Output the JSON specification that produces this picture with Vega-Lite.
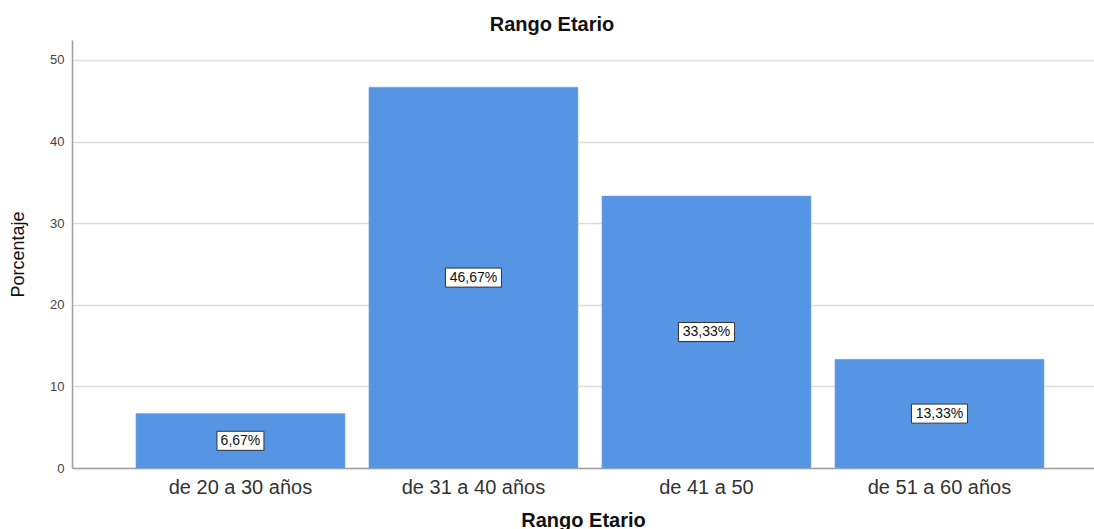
{
  "$schema": "https://vega.github.io/schema/vega-lite/v6.json",
  "width": 1022,
  "height": 428,
  "autosize": "none",
  "padding": {"left": 72, "top": 40, "right": 0, "bottom": 61},
  "background": "white",
  "title": {
    "text": "Rango Etario",
    "anchor": "middle",
    "frame": "group",
    "dx": -31,
    "offset": 5,
    "font": "Liberation Sans",
    "fontSize": 20,
    "fontWeight": "bold",
    "color": "#111111"
  },
  "data": {
    "values": [
      {"rango": "de 20 a 30 años", "pct": 6.67},
      {"rango": "de 31 a 40 años", "pct": 46.67},
      {"rango": "de 41 a 50", "pct": 33.33},
      {"rango": "de 51 a 60 años", "pct": 13.33}
    ]
  },
  "transform": [
    {"calculate": "datum.pct / 2", "as": "mid"},
    {"calculate": "replace(format(datum.pct, '.2f'), '.', ',') + '%'", "as": "etiqueta"}
  ],
  "encoding": {
    "x": {
      "field": "rango",
      "type": "nominal",
      "sort": null,
      "scale": {"paddingInner": 0.103, "paddingOuter": 0.2446, "align": 0.561},
      "axis": {
        "title": "Rango Etario",
        "labelAngle": 0,
        "labelFont": "Liberation Sans",
        "labelFontSize": 20,
        "labelColor": "#333333",
        "labelPadding": 9,
        "ticks": false,
        "domainColor": "#a0a0a0",
        "domainWidth": 1.5,
        "titleFont": "Liberation Sans",
        "titleFontSize": 20,
        "titleFontWeight": "bold",
        "titleColor": "#111111",
        "titlePadding": 13
      }
    }
  },
  "layer": [
    {
      "mark": {"type": "bar", "color": "#5595e4", "stroke": "#6ea4ea", "strokeWidth": 0.5},
      "encoding": {
        "y": {
          "field": "pct",
          "type": "quantitative",
          "scale": {"domain": [0, 52.45], "nice": false},
          "axis": {
            "title": "Porcentaje",
            "values": [0, 10, 20, 30, 40, 50],
            "labelFont": "Liberation Sans",
            "labelFontSize": 13,
            "labelColor": "#444444",
            "labelPadding": 8,
            "ticks": false,
            "domainColor": "#a0a0a0",
            "domainWidth": 1.5,
            "gridColor": "#dddddd",
            "gridWidth": 1.5,
            "titleFont": "Liberation Sans",
            "titleFontSize": 18,
            "titleFontWeight": "normal",
            "titleColor": "#111111",
            "titlePadding": 22
          }
        }
      }
    },
    {
      "mark": {"type": "point", "filled": false, "fill": "white", "fillOpacity": 1, "stroke": "#333333", "strokeWidth": 1, "size": 3136, "opacity": 1},
      "encoding": {
        "y": {"field": "mid", "type": "quantitative"},
        "shape": {
          "condition": {"test": "datum.pct < 10", "value": "M-0.839,-0.34L0.839,-0.34L0.839,0.34L-0.839,0.34Z"},
          "value": "M-1,-0.34L1,-0.34L1,0.34L-1,0.34Z"
        }
      }
    },
    {
      "mark": {"type": "text", "font": "Liberation Sans", "fontSize": 14, "color": "#111111", "baseline": "middle", "align": "center"},
      "encoding": {
        "y": {"field": "mid", "type": "quantitative"},
        "text": {"field": "etiqueta"}
      }
    }
  ],
  "config": {
    "view": {"stroke": null}
  }
}
